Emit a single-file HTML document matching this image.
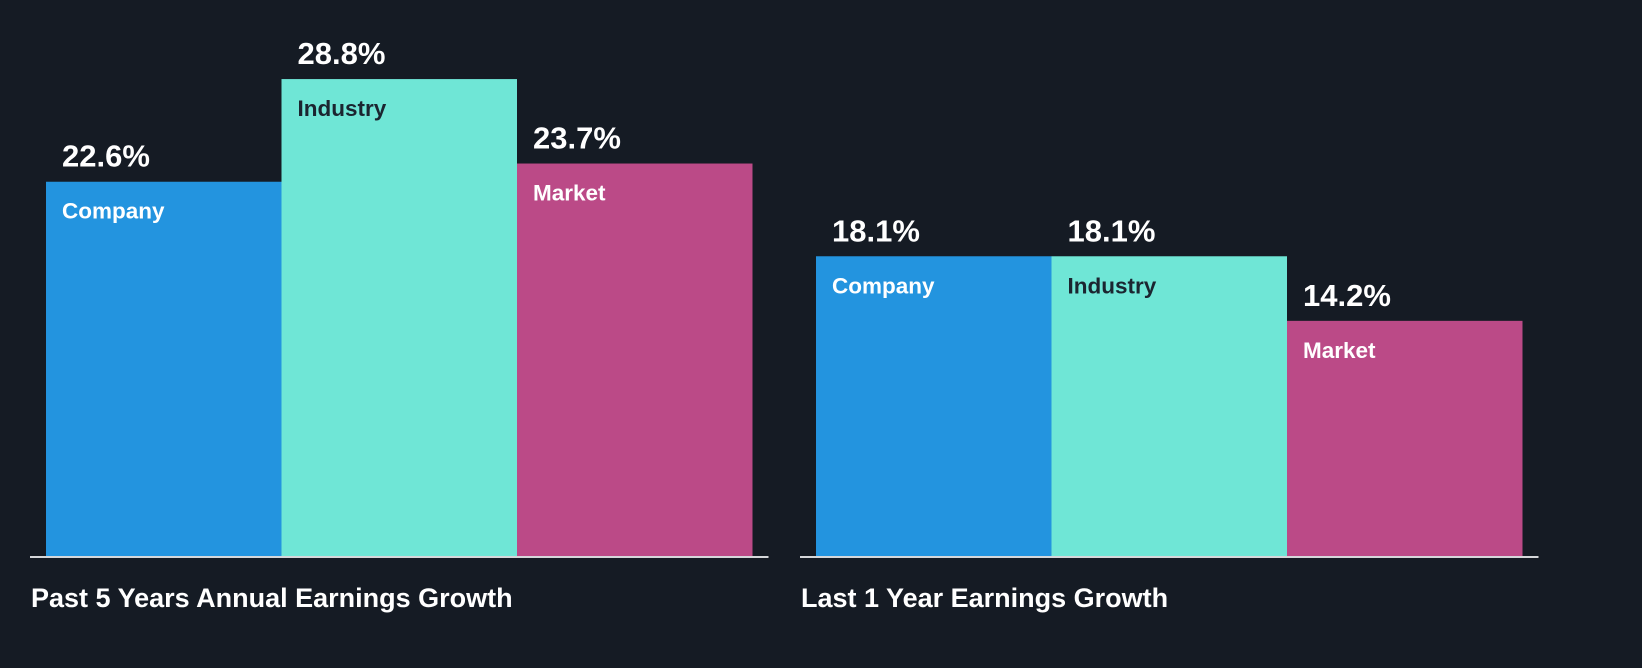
<!DOCTYPE html>
<html><head><meta charset="utf-8"><style>
html,body{margin:0;padding:0;background:#151b24;}
svg{display:block;font-family:"Liberation Sans",Arial,sans-serif;font-weight:bold;}
</style></head><body>
<svg id="chart" width="1642" height="668" viewBox="0 0 1642 668">
<rect x="0" y="0" width="1642" height="668" fill="#151b24"/>
<g id="bars"></g>
</svg>
<script>
const groups = ["Past 5 Years Annual Earnings Growth", "Last 1 Year Earnings Growth"];
const seriesNames = ["Company", "Industry", "Market"];
const companyValues = [22.6, 18.1];
const industryValues = [28.8, 18.1];
const marketValues = [23.7, 14.2];
const valueLabels = [["22.6%","28.8%","23.7%"],["18.1%","18.1%","14.2%"]];

const colors = ["#2394df", "#6fe6d6", "#bb4a87"];
const textColors = ["#ffffff", "#1b2530", "#ffffff"];
const baseY = 556;
const pxPerUnit = 16.56;
function yScale(v){ return baseY - v * pxPerUnit; }
const groupX = [46, 816];
const barW = 235.5;
const ns = "http://www.w3.org/2000/svg";
const g = document.getElementById("bars");
const series = [companyValues, industryValues, marketValues];

groups.forEach((name, gi) => {
  const axis = document.createElementNS(ns, "rect");
  axis.setAttribute("x", groupX[gi] - 16);
  axis.setAttribute("y", baseY);
  axis.setAttribute("width", 3 * barW + 32);
  axis.setAttribute("height", 2);
  axis.setAttribute("fill", "#d5d7da");
  
  
  g.appendChild(axis);

  series.forEach((vals, si) => {
    const v = vals[gi];
    const x = groupX[gi] + si * barW;
    const top = yScale(v);
    const r = document.createElementNS(ns, "rect");
    r.setAttribute("x", x);
    r.setAttribute("y", top);
    r.setAttribute("width", barW);
    r.setAttribute("height", baseY - top);
    r.setAttribute("fill", colors[si]);
    
    
    g.appendChild(r);

    const vt = document.createElementNS(ns, "text");
    vt.setAttribute("x", x + 16);
    vt.setAttribute("y", top - 15);
    vt.setAttribute("font-size", "31");
    vt.setAttribute("fill", "#ffffff");
    vt.textContent = valueLabels[gi][si];
    
    
    g.appendChild(vt);

    const lt = document.createElementNS(ns, "text");
    lt.setAttribute("x", x + 16);
    lt.setAttribute("y", top + 37);
    lt.setAttribute("font-size", "22.5");
    lt.setAttribute("fill", textColors[si]);
    lt.textContent = seriesNames[si];
    
    
    g.appendChild(lt);
  });

  const t = document.createElementNS(ns, "text");
  t.setAttribute("x", groupX[gi] - 15);
  t.setAttribute("y", 607);
  t.setAttribute("font-size", "27");
  t.setAttribute("fill", "#ffffff");
  t.textContent = name;
  
  
  g.appendChild(t);
});
</script>
</body></html>
